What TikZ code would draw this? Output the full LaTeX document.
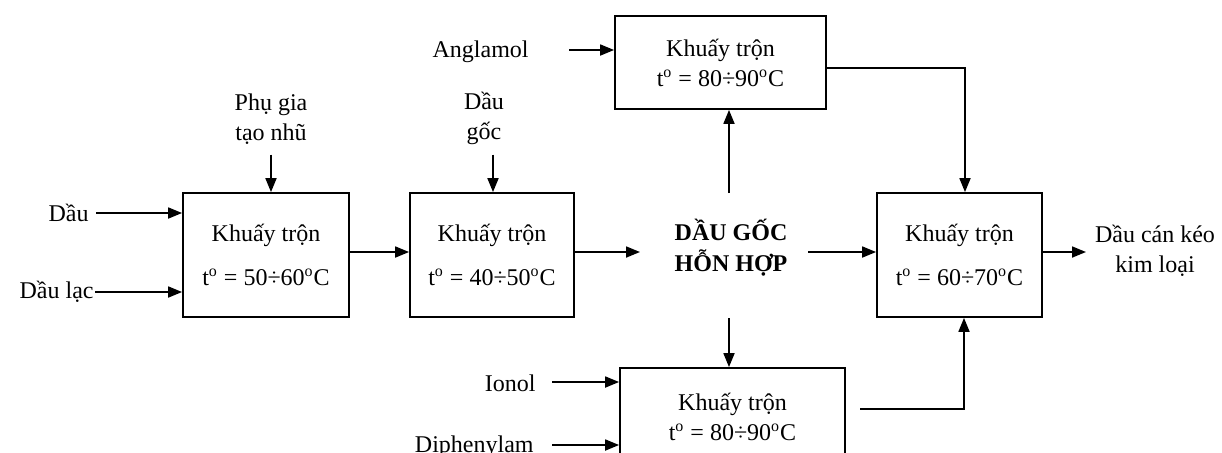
\documentclass[tikz,border=0pt]{standalone}
\usepackage{fontspec}
\setmainfont{Liberation Serif}
\usetikzlibrary{arrows.meta,calc}
\begin{document}
\begin{tikzpicture}[x=0.5pt,y=-0.5pt,
  every node/.style={font=\fontsize{12}{15}\selectfont, inner sep=0pt},
  box/.style={draw, line width=0.9pt, align=center},
  big/.style={box, minimum height=62pt},
  lbl/.style={align=center},
  arr/.style={line width=0.9pt, -{Triangle[length=7pt,width=5.5pt]}},
  ln/.style={line width=0.9pt}]
\useasboundingbox (0,0) rectangle (1222,452);
\begin{scope}
\clip (0,0) rectangle (1222,452);
% boxes
\node[big, minimum width=83pt] (b1) at (266,255) {Khuấy trộn\\[7pt]t\textsuperscript{o} = 50÷60\textsuperscript{o}C};
\node[big, minimum width=82pt] (b2) at (492,255) {Khuấy trộn\\[7pt]t\textsuperscript{o} = 40÷50\textsuperscript{o}C};
\node[big, minimum width=82.5pt] (rb) at (959.5,255) {Khuấy trộn\\[7pt]t\textsuperscript{o} = 60÷70\textsuperscript{o}C};
\node[box, minimum width=105.5pt, minimum height=46.5pt] (tb) at (720.5,62.5) {Khuấy trộn\\t\textsuperscript{o} = 80÷90\textsuperscript{o}C};
\node[box, minimum width=112.5pt, minimum height=49pt] (bb) at (732.5,417) {Khuấy trộn\\t\textsuperscript{o} = 80÷90\textsuperscript{o}C};
% labels
\node[lbl, anchor=east] (dau) at (89,213) {Dầu};
\node[lbl, anchor=east] (daulac) at (94,292) {Dầu lạc};
\node[lbl] (phugia) at (271,119) {Phụ gia\\tạo nhũ};
\node[lbl] (daugoc) at (484,118) {Dầu\\gốc};
\node[lbl, anchor=east] (angl) at (529,52) {Anglamol};
\node[lbl, anchor=east] (ionol) at (536,383) {Ionol};
\node[lbl, anchor=east] (diph) at (534,447) {Diphenylam};
\node[lbl, font=\bfseries\fontsize{12}{15.5}\selectfont] (dg) at (731,248) {DẦU GỐC\\HỖN HỢP};
\node[lbl] (out) at (1155,251) {Dầu cán kéo\\kim loại};
% free ends
\coordinate (dgin) at (640,252);
\coordinate (dgup) at (729,193);
\coordinate (dgdn) at (729,318);
\coordinate (dgr) at (808,252);
\coordinate (bout) at (860,409);
\coordinate (outend) at (1086,252);
% connectors
\draw[arr] ([xshift=3.5pt]dau.east) -- (b1.west |- dau.east);
\draw[arr] ([xshift=0.5pt]daulac.east) -- (b1.west |- daulac.east);
\draw[arr] ([yshift=-5pt]phugia.south) -- (phugia.south |- b1.north);
\draw[arr] ([xshift=4.5pt,yshift=-5pt]daugoc.south) -- ([xshift=4.5pt]daugoc.south |- b2.north);
\draw[arr] ($(b1.east)+(0,-3)$) -- ($(b2.west)+(0,-3)$);
\draw[arr] ($(b2.east)+(0,-3)$) -- (dgin);
\draw[arr] (dgup) -- (dgup |- tb.south);
\draw[arr] (dgdn) -- (dgdn |- bb.north);
\draw[arr] (dgr) -- (rb.west |- dgr);
\draw[arr] ([xshift=20pt]angl.east |- 0,50) -- (tb.west |- 0,50);
\draw[arr] ([xshift=8pt]ionol.east |- 0,382) -- (bb.west |- 0,382);
\draw[arr] ([xshift=9pt]diph.east |- 0,445) -- (bb.west |- 0,445);
\draw[arr] (tb.east |- 0,68) -| ($(rb.north)+(5.5,0)$);
\draw[arr] (bout) -| ($(rb.south)+(4.5,0)$);
\draw[arr] (rb.east |- outend) -- (outend);
\end{scope}
\end{tikzpicture}
\end{document}
